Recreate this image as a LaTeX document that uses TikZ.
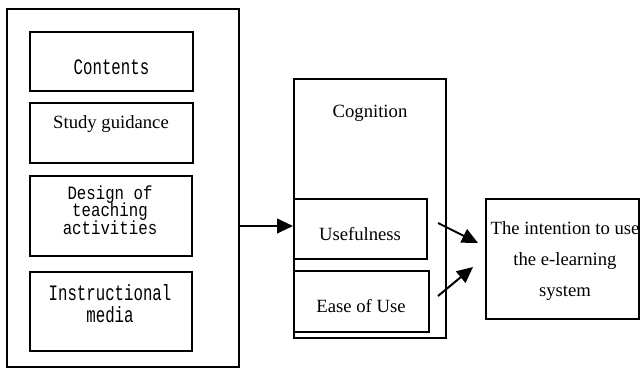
\documentclass[tikz,border=0pt]{standalone}
\usepackage{fontspec}
\setmainfont{Liberation Serif}
\newfontfamily\monof{Liberation Mono}
\usetikzlibrary{arrows.meta}
\newcommand{\mtxt}[1]{\scalebox{1}[1.4]{#1}}
\newcommand{\mtxs}[1]{\scalebox{1}[1.2]{#1}}
\newcommand{\tightlns}{\setlength{\lineskiplimit}{-30pt}\setlength{\lineskip}{0pt}}
\begin{document}
\begin{tikzpicture}[x=0.75pt,y=-0.75pt,
  box/.style={draw,line width=1.5pt,rectangle,inner sep=0pt},
  lbl/.style={inner sep=0pt,font=\fontsize{14pt}{16pt}\selectfont},
  mlbl/.style={inner sep=0pt,align=center,font=\monof\fontsize{11.8pt}{12pt}\selectfont},
  arr/.style={line width=1.5pt,-{Triangle[length=12pt,width=11pt]}}]
\useasboundingbox (0,0) rectangle (640,369);
% outer left box
\node[box,minimum width=232*0.75pt,minimum height=358*0.75pt] (outer) at (123,187.5) {};
\node[box,minimum width=163*0.75pt,minimum height=59*0.75pt] (contents) at (111.5,61.5) {};
\node[box,minimum width=163*0.75pt,minimum height=60*0.75pt] (study) at (111.5,133) {};
\node[box,minimum width=162*0.75pt,minimum height=80*0.75pt] (design) at (111,216) {};
\node[box,minimum width=162*0.75pt,minimum height=79*0.75pt] (media) at (111,311.5) {};
\node[mlbl] (tcontents) at (111.5,67) {\mtxt{Contents}};
\node[lbl] (tstudy) at (111,124) {Study guidance};
\node[mlbl,font=\monof\fontsize{11.8pt}{13.2pt}\selectfont\tightlns] (tdesign) at (110,210) {\mtxs{Design of}\\\mtxs{teaching}\\\mtxs{activities}};
\node[mlbl,font=\monof\fontsize{11.8pt}{16.5pt}\selectfont\tightlns] (tmedia) at (110,304) {\mtxt{Instructional}\\\mtxt{media}};
% cognition
\node[box,minimum width=152*0.75pt,minimum height=259*0.75pt] (cog) at (370,208.5) {};
\node[lbl] (tcog) at (370,113) {Cognition};
\node[box,minimum width=133*0.75pt,minimum height=60*0.75pt] (usef) at (360.5,229) {};
\node[lbl] (tusef) at (360,234) {Usefulness};
\node[box,minimum width=135*0.75pt,minimum height=61*0.75pt] (ease) at (361.5,301.5) {};
\node[lbl] (tease) at (361,306) {Ease of Use};
% intention
\node[box,minimum width=153*0.75pt,minimum height=120*0.75pt] (intent) at (562.5,259) {};
\node[lbl,align=center,font=\fontsize{14pt}{23pt}\selectfont] (tintent) at (565,261) {The intention to use\\the e-learning\\system};
% arrows
\coordinate (a1s) at (438,223);
\coordinate (a1e) at (478,243);
\coordinate (a2s) at (438,296);
\coordinate (a2e) at (473,267);
\draw[arr] (outer.east |- 0,226) -- (usef.west |- 0,226);
\draw[arr] (a1s) -- (a1e);
\draw[arr] (a2s) -- (a2e);
\end{tikzpicture}
\end{document}
